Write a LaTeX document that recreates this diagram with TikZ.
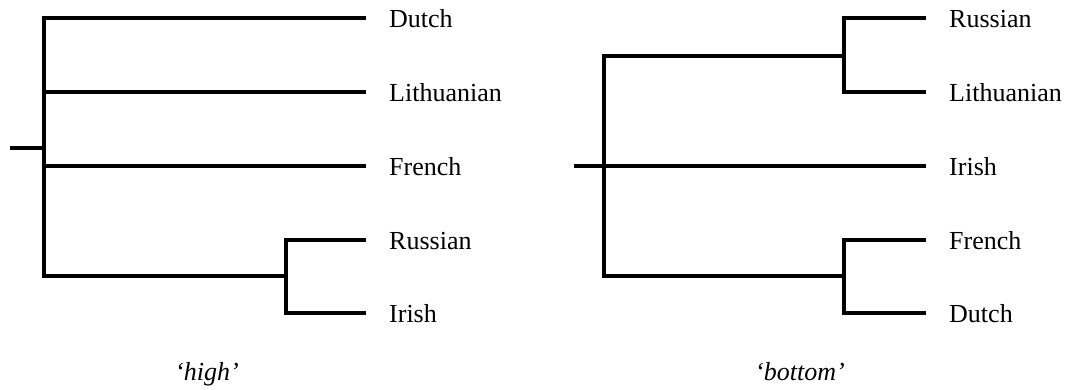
\documentclass[tikz,border=0pt]{standalone}
\usepackage{fontspec}
\setmainfont{Liberation Serif}
\begin{document}
\begin{tikzpicture}[x=1pt,y=1pt,
  branch/.style={line width=3.4pt,line join=miter},
  leaf/.style={anchor=base west,inner sep=0pt,font=\fontsize{26}{30}\selectfont},
  caption/.style={anchor=base,inner sep=0pt,font=\fontsize{26}{30}\selectfont\itshape}]
\useasboundingbox (0,0) rectangle (1071,390);
% ---------- left tree ('high') ----------
\coordinate (L0) at (10,242);
\coordinate (L1) at (44,242);
\coordinate (LS) at (286,114);
\coordinate (lDutch) at (366,372);
\coordinate (lLith) at (366,298);
\coordinate (lFrench) at (366,224);
\coordinate (lRuss) at (366,150);
\coordinate (lIrish) at (366,77);
\node[leaf] (nlDutch) at (389,362) {Dutch};
\node[leaf] (nlLith) at (389,288) {Lithuanian};
\node[leaf] (nlFrench) at (389,214) {French};
\node[leaf] (nlRuss) at (389,140) {Russian};
\node[leaf] (nlIrish) at (389,67) {Irish};
\draw[branch] (L0) -- (L1);
\draw[branch] (L1) |- (lDutch);
\draw[branch] (L1) |- (LS);
\draw[branch] (L1 |- lLith) -- (lLith);
\draw[branch] (L1 |- lFrench) -- (lFrench);
\draw[branch] (LS) |- (lRuss);
\draw[branch] (LS) |- (lIrish);
\node[caption] (capHigh) at (207,9) {‘high’};
% ---------- right tree ('bottom') ----------
\coordinate (R0) at (574,224);
\coordinate (R1) at (604,224);
\coordinate (RU) at (844,334);
\coordinate (RD) at (844,114);
\coordinate (rRuss) at (926,372);
\coordinate (rLith) at (926,298);
\coordinate (rIrish) at (926,224);
\coordinate (rFrench) at (926,150);
\coordinate (rDutch) at (926,77);
\node[leaf] (nrRuss) at (949,362) {Russian};
\node[leaf] (nrLith) at (949,288) {Lithuanian};
\node[leaf] (nrIrish) at (949,214) {Irish};
\node[leaf] (nrFrench) at (949,140) {French};
\node[leaf] (nrDutch) at (949,67) {Dutch};
\draw[branch] (R0) -- (rIrish);
\draw[branch] (R1) |- (RU);
\draw[branch] (R1) |- (RD);
\draw[branch] (RU) |- (rRuss);
\draw[branch] (RU) |- (rLith);
\draw[branch] (RD) |- (rFrench);
\draw[branch] (RD) |- (rDutch);
\node[caption] (capBottom) at (800,9) {‘bottom’};
\end{tikzpicture}
\end{document}
